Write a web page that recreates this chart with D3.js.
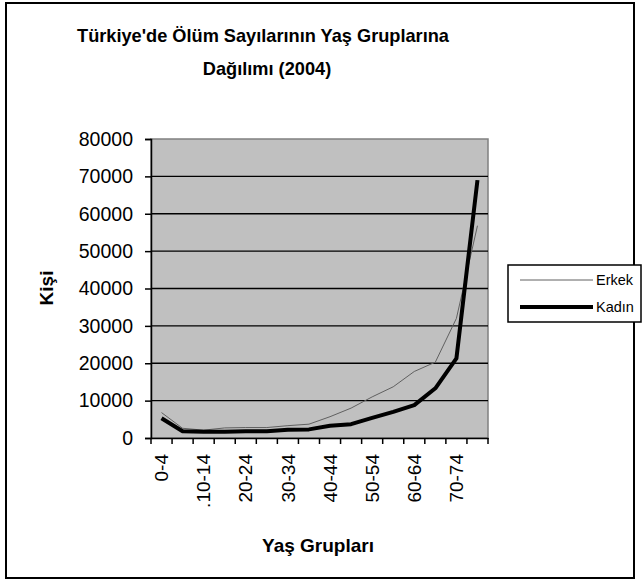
<!DOCTYPE html>
<html><head><meta charset="utf-8">
<script src="https://cdn.jsdelivr.net/npm/d3@7"></script>
<style>body{margin:0;background:#fff}svg{display:block;font-family:"Liberation Sans",Arial,sans-serif}</style>
</head><body><svg id="c" width="642" height="587"></svg>
<script>
const categories = ["0-4","5-9",".10-14","15-19","20-24","25-29","30-34","35-39","40-44","45-49","50-54","55-59","60-64","65-69","70-74","75+"];
const erkek = [6800,2600,2100,2700,2800,2800,3300,3700,5700,8000,11000,13700,17800,20300,32000,56800];
const kadin = [5300,1800,1700,1700,1800,1800,2200,2300,3300,3700,5400,7000,8800,13300,21300,69000];
const yTicks = [0,10000,20000,30000,40000,50000,60000,70000,80000];
const seriesNames = ["Erkek","Kadın"];

const svg = d3.select("#c");
svg.append("rect").attr("x",6).attr("y",3).attr("width",628).attr("height",575)
  .attr("fill","#fff").attr("stroke","#000").attr("stroke-width",2);

const L=151,R=488,T=139,B=438;
const x = d3.scaleBand().domain(categories).range([L,R]);
const y = d3.scaleLinear().domain([0,80000]).range([B,T]);

svg.append("rect").attr("x",L).attr("y",T).attr("width",R-L).attr("height",B-T)
  .attr("fill","#c0c0c0").attr("stroke","#808080").attr("stroke-width",1.5);

svg.append("g").selectAll("line").data(yTicks.slice(1,-1)).join("line")
  .attr("x1",L).attr("x2",R).attr("y1",d=>y(d)).attr("y2",d=>y(d))
  .attr("stroke","#000").attr("stroke-width",1.3);

// y axis
const ya = svg.append("g").attr("transform",`translate(${L},0)`)
  .call(d3.axisLeft(y).tickValues(yTicks).tickFormat(d3.format("d")).tickSize(6).tickPadding(12));
ya.select(".domain").attr("stroke","#000").attr("stroke-width",1.5);
ya.selectAll("line").attr("stroke","#000").attr("stroke-width",1.5);
ya.selectAll("text").attr("font-size",19.5).attr("fill","#000").attr("font-family","Liberation Sans, Arial, sans-serif");

// x axis
const xa = svg.append("g").attr("transform",`translate(0,${B})`)
  .call(d3.axisBottom(x).tickSize(0).tickFormat((d,i)=> i%2===0 ? d : ""));
xa.select(".domain").attr("stroke","#000").attr("stroke-width",1.5);
xa.selectAll("text").attr("font-size",19).attr("fill","#000")
  .attr("font-family","Liberation Sans, Arial, sans-serif")
  .attr("transform","rotate(-90)").attr("text-anchor","end")
  .attr("x",-16).attr("y",0).attr("dy","0.35em");
// boundary ticks
const bounds = categories.map(c=>x(c)).concat([x(categories[categories.length-1])+x.bandwidth()]);
svg.append("g").selectAll("line").data(bounds).join("line")
  .attr("x1",d=>d).attr("x2",d=>d).attr("y1",B).attr("y2",B+6)
  .attr("stroke","#000").attr("stroke-width",1.5);

const line = d3.line().x((d,i)=>x(categories[i])+x.bandwidth()/2).y(d=>y(d));
svg.append("path").datum(erkek).attr("d",line).attr("fill","none")
  .attr("stroke","#606060").attr("stroke-width",1);
svg.append("path").datum(kadin).attr("d",line).attr("fill","none")
  .attr("stroke","#000").attr("stroke-width",4).attr("stroke-linejoin","round");

// titles
const title = svg.append("text").attr("font-weight","bold").attr("font-size",18.2)
  .attr("text-anchor","middle").attr("fill","#000");
title.append("tspan").attr("x",263).attr("y",42).text("Türkiye'de Ölüm Sayılarının Yaş Gruplarına");
title.append("tspan").attr("x",267).attr("y",75).text("Dağılımı (2004)");

svg.append("text").attr("transform","translate(53,288) rotate(-90)").attr("text-anchor","middle")
  .attr("font-weight","bold").attr("font-size",19).text("Kişi");
svg.append("text").attr("x",318).attr("y",552).attr("text-anchor","middle")
  .attr("font-weight","bold").attr("font-size",19).text("Yaş Grupları");

// legend
const lg = svg.append("g");
lg.append("rect").attr("x",508).attr("y",265).attr("width",133).attr("height",57)
  .attr("fill","#fff").attr("stroke","#000").attr("stroke-width",1.5);
const lw=[1,4], lc=["#606060","#000"], ly=[280,307];
seriesNames.forEach((n,i)=>{
  lg.append("line").attr("x1",520).attr("x2",593).attr("y1",ly[i]).attr("y2",ly[i])
    .attr("stroke",lc[i]).attr("stroke-width",lw[i]);
  lg.append("text").attr("x",596).attr("y",ly[i]).attr("dy","0.35em").attr("font-size",14.5).text(n);
});
</script></body></html>
